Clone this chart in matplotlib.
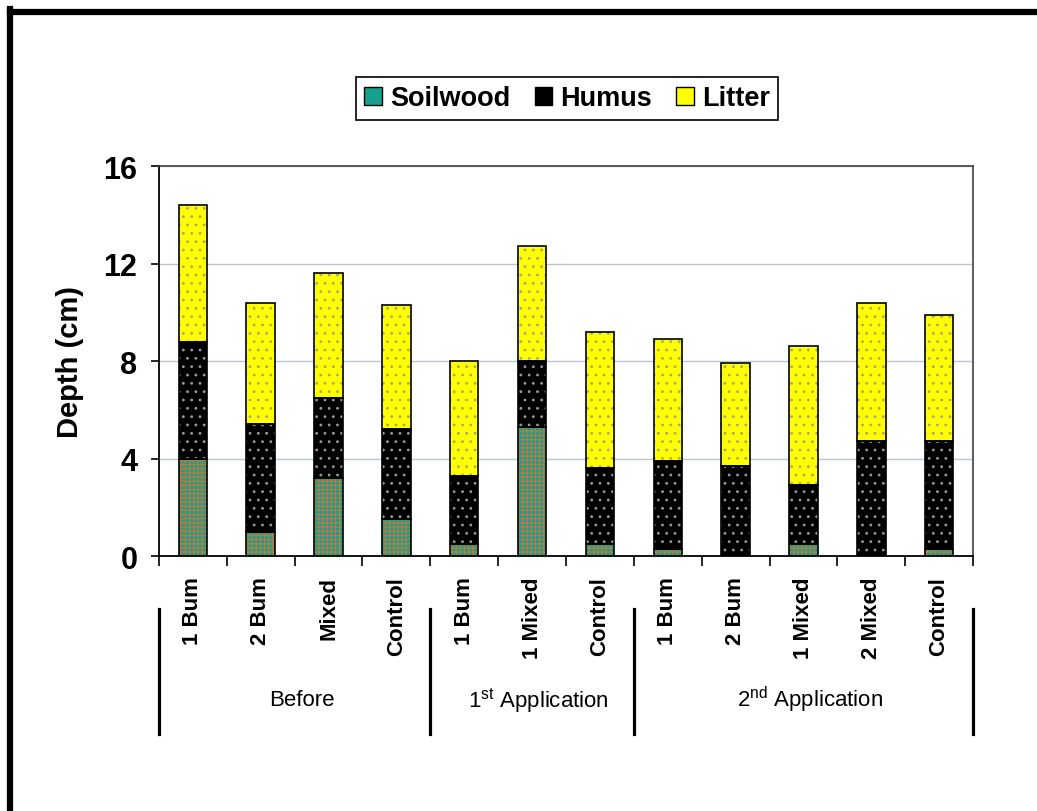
import matplotlib
matplotlib.use("Agg")
import matplotlib.pyplot as plt
import numpy as np
from matplotlib.lines import Line2D
from matplotlib.patches import Patch

plt.rcParams['font.family'] = ['Liberation Sans', 'DejaVu Sans']
plt.rcParams['mathtext.fontset'] = 'custom'
plt.rcParams['mathtext.rm'] = 'Liberation Sans'
plt.rcParams['hatch.linewidth'] = 0.8

# depth of each layer (cm)
categories = ["1 Bum", "2 Bum", "Mixed", "Control",
              "1 Bum", "1 Mixed", "Control",
              "1 Bum", "2 Bum", "1 Mixed", "2 Mixed", "Control"]
soilwood = [4.0, 1.0, 3.2, 1.5, 0.5, 5.3, 0.5, 0.3, 0.0, 0.5, 0.0, 0.3]
humus = [4.8, 4.4, 3.3, 3.7, 2.8, 2.7, 3.1, 3.6, 3.7, 2.4, 4.7, 4.4]
litter = [5.6, 5.0, 5.1, 5.1, 4.7, 4.7, 5.6, 5.0, 4.2, 5.7, 5.7, 5.2]

groups = ["Before", r"1$^{\mathrm{st}}$ Application", r"2$^{\mathrm{nd}}$ Application"]
group_sizes = [4, 3, 5]

layers = [
    ("Soilwood", soilwood, "#17a08e", "#c67838", "++++"),
    ("Humus", humus, "#000000", "#9a9a9a", ".."),
    ("Litter", litter, "#ffff00", "#a8a870", ".."),
]

fig = plt.figure(figsize=(10.37, 8.12), dpi=100)
ax = fig.add_axes([0.1533, 0.314, 0.785, 0.4803])

x = np.arange(len(categories))
width = 0.42
bottom = np.zeros(len(categories))
for name, vals, face, hcol, hatch in layers:
    vals = np.array(vals)
    ax.bar(x, vals, width, bottom=bottom, color=face, linewidth=0, zorder=2)
    ax.bar(x, vals, width, bottom=bottom, color="none", edgecolor=hcol,
           hatch=hatch, linewidth=0, zorder=3)
    ax.bar(x, vals, width, bottom=bottom, color="none", edgecolor="black",
           linewidth=1.2, zorder=4)
    bottom += vals

ax.set_xlim(-0.5, len(categories) - 0.5)
ax.set_ylim(0, 16)
ax.set_yticks([0, 4, 8, 12, 16])
ax.set_yticklabels(["0", "4", "8", "12", "16"], fontsize=22, fontweight="bold")
ax.tick_params(axis="y", direction="out", length=5.5, width=1.2, pad=10)
ax.set_xticks(np.arange(len(categories) + 1) - 0.5)
ax.set_xticklabels([])
ax.tick_params(axis="x", direction="out", length=7, width=1.2)
ax.set_ylabel("Depth (cm)", fontsize=21, fontweight="bold", labelpad=14)

ax.yaxis.grid(True, color="#b7c9d3", linewidth=1.0)
ax.set_axisbelow(True)
for side in ["left", "bottom"]:
    ax.spines[side].set_color("black")
    ax.spines[side].set_linewidth(1.3)
for side in ["top", "right"]:
    ax.spines[side].set_color("#404040")
    ax.spines[side].set_linewidth(1.2)

# category labels under the axis
trans = ax.get_xaxis_transform()
for xi, lab in zip(x, categories):
    ax.text(xi, -0.052, lab, rotation=90, ha="center", va="top",
            fontsize=16, fontweight="bold", transform=trans)

# group separators and group names
edges = np.concatenate([[0], np.cumsum(group_sizes)]) - 0.5
for e in edges:
    ax.add_line(Line2D([e, e], [-0.136, -0.456], color="black", lw=2.3,
                       transform=trans, clip_on=False))
for i, g in enumerate(groups):
    mid = (edges[i] + edges[i + 1]) / 2
    ax.text(mid + 0.1, -0.367, g, ha="center", va="center", fontsize=16,
            transform=trans)

handles = [Patch(facecolor=face, edgecolor="black", linewidth=1.0)
           for name, vals, face, hcol, hatch in layers]
leg = fig.legend(handles, [l[0] for l in layers], loc="center",
                 bbox_to_anchor=(0.547, 0.8775), ncol=3, frameon=True,
                 fancybox=False, edgecolor="black", framealpha=1,
                 handlelength=0.65, handleheight=0.65, handletextpad=0.3,
                 columnspacing=0.9, borderpad=0.3,
                 prop={"size": 19.5, "weight": "bold"})
leg.get_frame().set_linewidth(1.2)

# thick frame along the left and top edges
fig.add_artist(Line2D([10 / 1037, 10 / 1037], [0, 1 - 10 / 812], color="black",
                      lw=4.5, transform=fig.transFigure, solid_capstyle="projecting"))
fig.add_artist(Line2D([10 / 1037, 1], [1 - 13 / 812, 1 - 13 / 812], color="black",
                      lw=4.5, transform=fig.transFigure, solid_capstyle="projecting"))

fig.savefig("out.png", dpi=100)
